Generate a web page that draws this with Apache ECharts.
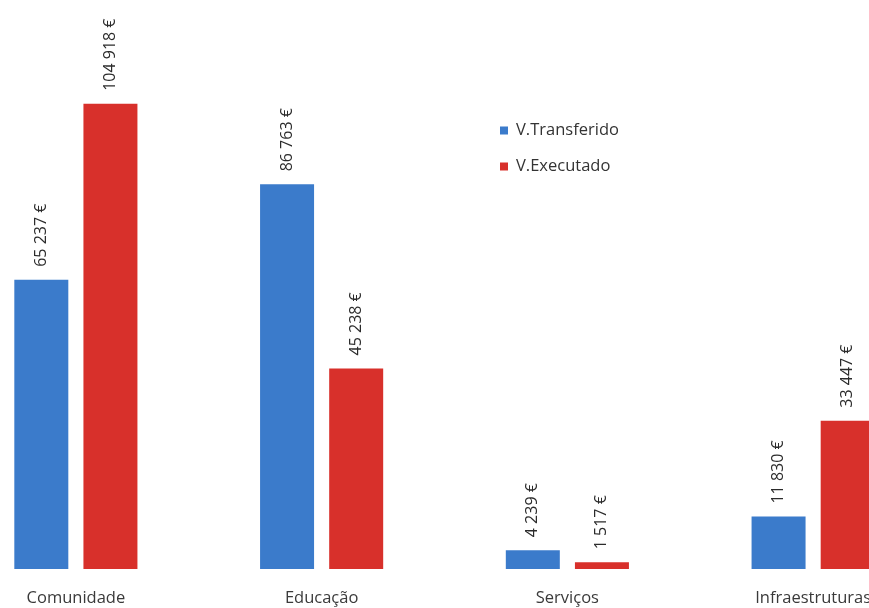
<!DOCTYPE html>
<html>
<head>
<meta charset="utf-8">
<script src="https://cdn.jsdelivr.net/npm/echarts@6/dist/echarts.min.js"></script>
<style>
html,body{margin:0;padding:0;background:#fff;overflow:hidden;width:869px;height:608px;}
#wrap{position:absolute;left:0;top:0;width:869px;height:608px;overflow:hidden;}
#chart{position:absolute;left:-47px;top:0;width:983px;height:608px;}
</style>
</head>
<body>
<div id="wrap"><div id="chart"></div></div>
<script>
const categories = ['Comunidade', 'Educação', 'Serviços', 'Infraestruturas'];
const transferido = [65237, 86763, 4239, 11830];
const executado = [104918, 45238, 1517, 33447];
const seriesNames = ['V.Transferido', 'V.Executado'];

function fmt(v){
  return String(v).replace(/\B(?=(\d{3})+(?!\d))/g, ' ') + ' €';
}
const FONT = '"Open Sans", "Noto Sans", sans-serif';
const chart = echarts.init(document.getElementById('chart'), null, {renderer:'canvas'});
const labelCfg = {
  show: true, position: 'top', rotate: 90, align: 'left', verticalAlign: 'middle',
  distance: 13, color: '#2b2b2b', fontSize: 16, fontFamily: FONT,
  formatter: p => fmt(p.value)
};
chart.setOption({
  animation: false,
  backgroundColor: '#fff',
  grid: {left: 0, right: 0, top: 37, bottom: 39, containLabel: false},
  legend: {
    orient: 'vertical', left: 542, top: 117, itemWidth: 8, itemHeight: 8, itemGap: 19,
    icon: 'rect',
    textStyle: {fontSize: 16.5, color: '#333', fontFamily: FONT, padding: [0, 0, 0, 3]},
    data: seriesNames
  },
  xAxis: {
    type: 'category', data: categories,
    axisLine: {show: false}, axisTick: {show: false},
    axisLabel: {margin: 21, fontSize: 16.5, color: '#3a3a3a', fontFamily: FONT}
  },
  yAxis: {type: 'value', min: 0, max: 120000, show: false, splitLine: {show: false}},
  series: [
    {name: seriesNames[0], type: 'bar', data: transferido, barWidth: 54, barGap: '28%',
     itemStyle: {color: '#3b7bcb'}, label: labelCfg},
    {name: seriesNames[1], type: 'bar', data: executado, barWidth: 54,
     itemStyle: {color: '#d8302b'}, label: labelCfg}
  ]
});
</script>
</body>
</html>
